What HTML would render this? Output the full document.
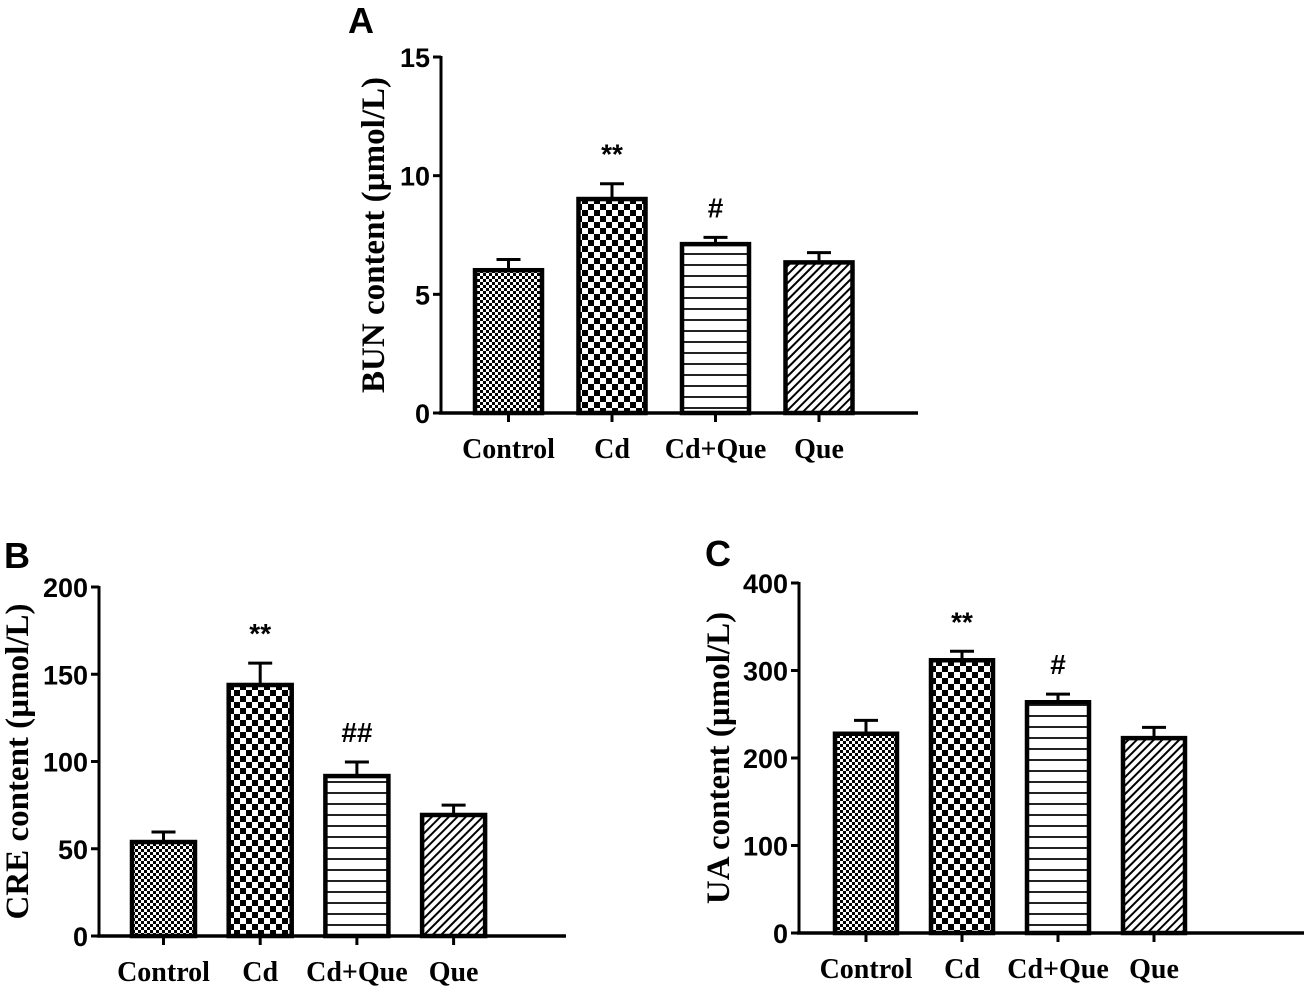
<!DOCTYPE html>
<html><head><meta charset="utf-8"><style>
html,body{margin:0;padding:0;background:#fff;}
svg{display:block;}
.tick{font-family:"Liberation Sans",Arial,sans-serif;font-weight:bold;font-size:27px;}
.cat{font-family:"Liberation Serif",serif;font-weight:bold;font-size:28px;}
.ytitle{font-family:"Liberation Serif",serif;font-weight:bold;font-size:33px;}
.plab{font-family:"Liberation Sans",Arial,sans-serif;font-weight:bold;font-size:36px;}
.sig{font-family:"Liberation Sans",Arial,sans-serif;font-weight:bold;font-size:28px;}
</style></head><body>
<svg id="fig" width="1304" height="990" viewBox="0 0 1304 990" xmlns="http://www.w3.org/2000/svg">
<defs>
<pattern id="pFine" patternUnits="userSpaceOnUse" width="6" height="6"><rect width="6" height="6" fill="#fff"/><rect width="3" height="3" fill="#000"/><rect x="3" y="3" width="3" height="3" fill="#000"/></pattern>
<pattern id="pCheck" patternUnits="userSpaceOnUse" width="12" height="12"><rect width="12" height="12" fill="#fff"/><rect width="6" height="6" fill="#000"/><rect x="6" y="6" width="6" height="6" fill="#000"/></pattern>
<pattern id="pHoriz" patternUnits="userSpaceOnUse" width="10" height="11"><rect width="10" height="11" fill="#fff"/><rect y="0" width="10" height="2" fill="#222"/></pattern>
<pattern id="pDiag" patternUnits="userSpaceOnUse" width="6" height="6" patternTransform="rotate(45)"><rect width="6" height="6" fill="#fff"/><rect width="2" height="6" fill="#000"/></pattern>
</defs>
</svg>
<script>
const categories = ["Control","Cd","Cd+Que","Que"];
const bunValues = [6.1, 9.1, 7.2, 6.43];
const bunErrors = [0.37, 0.56, 0.2, 0.33];
const bunTicks = [0, 5, 10, 15];
const bunSig = ["", "**", "#", ""];
const creValues = [55, 145, 92.8, 70.5];
const creErrors = [4.6, 11.4, 6.9, 4.5];
const creTicks = [0, 50, 100, 150, 200];
const creSig = ["", "**", "##", ""];
const uaValues = [230, 314, 266, 225];
const uaErrors = [13, 8, 7, 10];
const uaTicks = [0, 100, 200, 300, 400];
const uaSig = ["", "**", "#", ""];
const fills = ["url(#pFine)","url(#pCheck)","url(#pHoriz)","url(#pDiag)"];

const NS = "http://www.w3.org/2000/svg";
const svg = document.getElementById("fig");
function mk(tag, attrs, parent){ const e=document.createElementNS(NS,tag); for(const k in attrs) e.setAttribute(k,attrs[k]); (parent||svg).appendChild(e); return e; }

function panel(cfg, values, errors, ticks, sig){
  const g = mk("g",{});
  
  
  const max = ticks[ticks.length-1];
  const y = v => cfg.y0 - (v/max)*(cfg.y0-cfg.yTop);
  const lab = mk("text",{x:cfg.labX,y:cfg.labY,class:"plab"},g); lab.textContent=cfg.letter;
  
  
  const yt = mk("text",{x:0,y:0,class:"ytitle","text-anchor":"middle",transform:`translate(${cfg.titleX},${(cfg.y0+cfg.yTop)/2}) rotate(-90)`},g);
  yt.textContent = cfg.title;
  
  
  const ya = mk("line",{x1:cfg.x0,y1:cfg.yTop-1,x2:cfg.x0,y2:cfg.y0,stroke:"#000","stroke-width":3},g);
  
  
  ticks.forEach(t=>{
    const tl = mk("line",{x1:cfg.x0-8,y1:y(t),x2:cfg.x0,y2:y(t),stroke:"#000","stroke-width":3},g);
    
    
    const tx = mk("text",{x:cfg.x0-11,y:y(t)+10,class:"tick","text-anchor":"end"},g); tx.textContent=t;
    
    
  });
  const xa = mk("line",{x1:cfg.x0-2,y1:cfg.y0,x2:cfg.xEnd,y2:cfg.y0,stroke:"#000","stroke-width":3.5},g);
  
  
  categories.forEach((c,i)=>{
    const xl = cfg.bar0 + i*cfg.step, w = cfg.bw, cx = xl + w/2;
    const top = y(values[i]);
    const el = mk("line",{x1:cx,y1:y(values[i]+errors[i]),x2:cx,y2:top,stroke:"#000","stroke-width":3},g);
    
    
    const ec = mk("line",{x1:cx-12,y1:y(values[i]+errors[i]),x2:cx+12,y2:y(values[i]+errors[i]),stroke:"#000","stroke-width":3},g);
    
    
    const r = mk("rect",{x:xl+2,y:top+2,width:w-4,height:cfg.y0-top-2,fill:fills[i],stroke:"#000","stroke-width":4.5},g);
    
    
    const tk = mk("line",{x1:cx,y1:cfg.y0,x2:cx,y2:cfg.y0+9,stroke:"#000","stroke-width":3},g);
    
    
    const ct = mk("text",{x:cx,y:cfg.y0+45,class:"cat","text-anchor":"middle"},g); ct.textContent=c;
    
    
    if(sig[i]){
      const st = mk("text",{x:cx,y:y(values[i]+errors[i])-cfg.sigGap,class:"sig","text-anchor":"middle"},g); st.textContent=sig[i];
      
      
    }
  });
}
panel({name:"panel-a-bun",letter:"A",labX:348,labY:33,title:"BUN content (µmol/L)",titleX:384,x0:441,y0:413,yTop:57,xEnd:918,bar0:473,step:103.5,bw:71,sigGap:20},bunValues,bunErrors,bunTicks,bunSig);
panel({name:"panel-b-cre",letter:"B",labX:4,labY:568,title:"CRE content (µmol/L)",titleX:28,x0:99,y0:936,yTop:587,xEnd:566,bar0:130,step:96.7,bw:67,sigGap:20},creValues,creErrors,creTicks,creSig);
panel({name:"panel-c-ua",letter:"C",labX:705,labY:566,title:"UA content (µmol/L)",titleX:729,x0:799,y0:933,yTop:583,xEnd:1304,bar0:833,step:96,bw:66,sigGap:20},uaValues,uaErrors,uaTicks,uaSig);
</script>
</body></html>
